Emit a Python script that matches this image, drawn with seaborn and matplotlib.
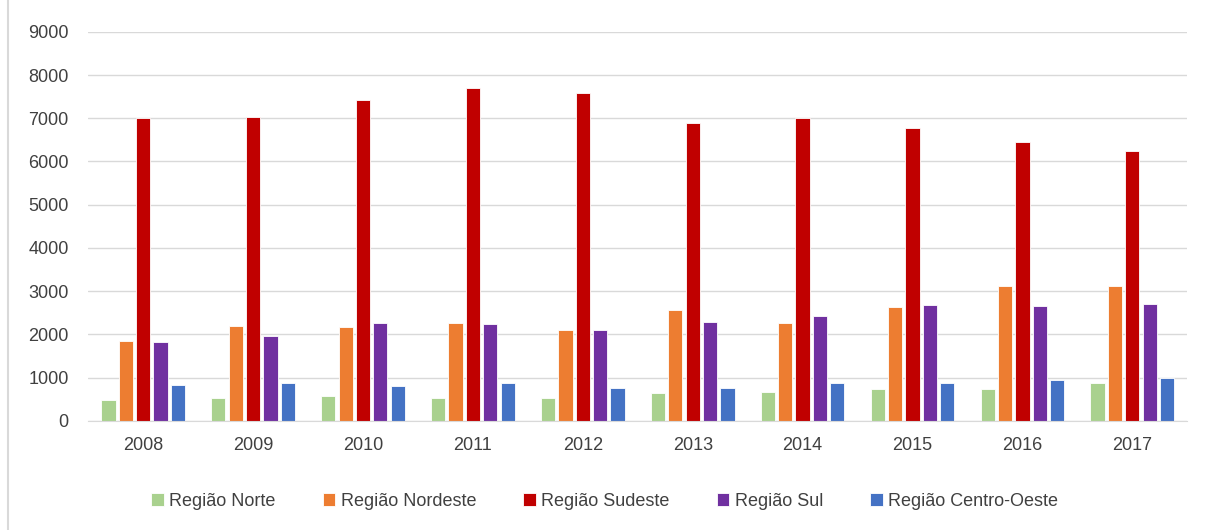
import pandas as pd
import numpy as np
import matplotlib.pyplot as plt
import seaborn as sns

anos = ["2008", "2009", "2010", "2011", "2012", "2013", "2014", "2015", "2016", "2017"]
regioes = ["Região Norte", "Região Nordeste", "Região Sudeste", "Região Sul", "Região Centro-Oeste"]
norte = [480, 530, 585, 530, 530, 640, 665, 725, 725, 865]
nordeste = [1850, 2185, 2160, 2260, 2100, 2570, 2260, 2625, 3115, 3115]
sudeste = [7000, 7020, 7415, 7710, 7580, 6890, 7000, 6775, 6450, 6235]
sul = [1820, 1960, 2260, 2240, 2100, 2290, 2430, 2680, 2650, 2700]
centro_oeste = [840, 865, 810, 865, 750, 770, 885, 885, 940, 995]
cores = ["#A9D18E", "#ED7D31", "#C00000", "#7030A0", "#4472C4"]

series = [norte, nordeste, sudeste, sul, centro_oeste]
df = pd.DataFrame({
    "ano": anos * len(regioes),
    "regiao": np.repeat(regioes, len(anos)),
    "valor": np.concatenate(series),
})

sns.set_style("white")
plt.rcParams['font.family'] = ['Liberation Sans', 'DejaVu Sans']

fig = plt.figure(figsize=(12.09, 5.30), dpi=100)
ax = fig.add_axes([0.073, 0.206, 0.909, 0.734])
sns.barplot(data=df, x="ano", y="valor", hue="regiao", palette=cores, saturation=1,
            width=0.79, gap=0.18, edgecolor="white", linewidth=0.6, ax=ax)

ax.set_ylim(0, 9000)
ax.set_yticks(range(0, 9001, 1000))
ax.set_xlim(-0.5, 9.5)
ax.yaxis.grid(True, color="#D9D9D9", linewidth=1)
ax.set_axisbelow(True)
for s in ["top", "right", "left"]:
    ax.spines[s].set_visible(False)
ax.spines["bottom"].set_color("#D9D9D9")
ax.tick_params(axis="both", length=0, labelsize=13, colors="#404040")
ax.tick_params(axis="y", pad=14)
ax.tick_params(axis="x", pad=12)
ax.set_xlabel("")
ax.set_ylabel("")

sns.move_legend(ax, "lower center", bbox_to_anchor=(0.47, -0.27), ncol=5, frameon=False,
                title=None, fontsize=13, handlelength=0.7, handleheight=0.7,
                handletextpad=0.3, columnspacing=2.6, labelcolor="#404040")

fig.add_artist(plt.Line2D([0.007, 0.007], [0, 1], color="#D9D9D9", linewidth=1.5))

plt.savefig("out.png", dpi=100)
